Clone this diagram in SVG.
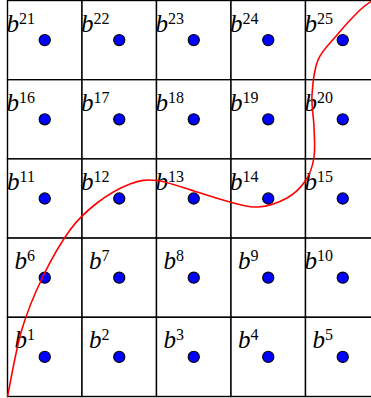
<svg xmlns="http://www.w3.org/2000/svg" width="371" height="398" viewBox="0 0 371 398">
<style>
.cell{fill:#fff;stroke:#000;stroke-width:1.4}
.dot{fill:#0000ff;stroke:#000;stroke-width:1.1}
.lb{font-family:"Liberation Serif","DejaVu Serif",serif;fill:#000;text-anchor:end}
.b{font-style:italic;font-size:25px}
.s{font-size:16px}
.curve{fill:none;stroke:#ff0000;stroke-width:1.6}
</style>
<rect width="371" height="398" fill="#fff"/>
<g id="b21"><rect class="cell" x="7.5" y="0.5" width="74.5" height="79.2"/><circle class="dot" cx="44.75" cy="40.1" r="5.6"/><text class="lb" x="35" y="31.5"><tspan class="b">b</tspan><tspan class="s" dy="-8">21</tspan></text></g>
<g id="b22"><rect class="cell" x="82" y="0.5" width="74.5" height="79.2"/><circle class="dot" cx="119.25" cy="40.1" r="5.6"/><text class="lb" x="109.5" y="31.5"><tspan class="b">b</tspan><tspan class="s" dy="-8">22</tspan></text></g>
<g id="b23"><rect class="cell" x="156.5" y="0.5" width="74.5" height="79.2"/><circle class="dot" cx="193.75" cy="40.1" r="5.6"/><text class="lb" x="184" y="31.5"><tspan class="b">b</tspan><tspan class="s" dy="-8">23</tspan></text></g>
<g id="b24"><rect class="cell" x="231" y="0.5" width="74.5" height="79.2"/><circle class="dot" cx="268.25" cy="40.1" r="5.6"/><text class="lb" x="258.5" y="31.5"><tspan class="b">b</tspan><tspan class="s" dy="-8">24</tspan></text></g>
<g id="b25"><rect class="cell" x="305.5" y="0.5" width="74.5" height="79.2"/><circle class="dot" cx="342.75" cy="40.1" r="5.6"/><text class="lb" x="333" y="31.5"><tspan class="b">b</tspan><tspan class="s" dy="-8">25</tspan></text></g>
<g id="b16"><rect class="cell" x="7.5" y="79.7" width="74.5" height="79.2"/><circle class="dot" cx="44.75" cy="119.3" r="5.6"/><text class="lb" x="35" y="110.7"><tspan class="b">b</tspan><tspan class="s" dy="-8">16</tspan></text></g>
<g id="b17"><rect class="cell" x="82" y="79.7" width="74.5" height="79.2"/><circle class="dot" cx="119.25" cy="119.3" r="5.6"/><text class="lb" x="109.5" y="110.7"><tspan class="b">b</tspan><tspan class="s" dy="-8">17</tspan></text></g>
<g id="b18"><rect class="cell" x="156.5" y="79.7" width="74.5" height="79.2"/><circle class="dot" cx="193.75" cy="119.3" r="5.6"/><text class="lb" x="184" y="110.7"><tspan class="b">b</tspan><tspan class="s" dy="-8">18</tspan></text></g>
<g id="b19"><rect class="cell" x="231" y="79.7" width="74.5" height="79.2"/><circle class="dot" cx="268.25" cy="119.3" r="5.6"/><text class="lb" x="258.5" y="110.7"><tspan class="b">b</tspan><tspan class="s" dy="-8">19</tspan></text></g>
<g id="b20"><rect class="cell" x="305.5" y="79.7" width="74.5" height="79.2"/><circle class="dot" cx="342.75" cy="119.3" r="5.6"/><text class="lb" x="333" y="110.7"><tspan class="b">b</tspan><tspan class="s" dy="-8">20</tspan></text></g>
<g id="b11"><rect class="cell" x="7.5" y="158.9" width="74.5" height="79.2"/><circle class="dot" cx="44.75" cy="198.5" r="5.6"/><text class="lb" x="35" y="189.9"><tspan class="b">b</tspan><tspan class="s" dy="-8">11</tspan></text></g>
<g id="b12"><rect class="cell" x="82" y="158.9" width="74.5" height="79.2"/><circle class="dot" cx="119.25" cy="198.5" r="5.6"/><text class="lb" x="109.5" y="189.9"><tspan class="b">b</tspan><tspan class="s" dy="-8">12</tspan></text></g>
<g id="b13"><rect class="cell" x="156.5" y="158.9" width="74.5" height="79.2"/><circle class="dot" cx="193.75" cy="198.5" r="5.6"/><text class="lb" x="184" y="189.9"><tspan class="b">b</tspan><tspan class="s" dy="-8">13</tspan></text></g>
<g id="b14"><rect class="cell" x="231" y="158.9" width="74.5" height="79.2"/><circle class="dot" cx="268.25" cy="198.5" r="5.6"/><text class="lb" x="258.5" y="189.9"><tspan class="b">b</tspan><tspan class="s" dy="-8">14</tspan></text></g>
<g id="b15"><rect class="cell" x="305.5" y="158.9" width="74.5" height="79.2"/><circle class="dot" cx="342.75" cy="198.5" r="5.6"/><text class="lb" x="333" y="189.9"><tspan class="b">b</tspan><tspan class="s" dy="-8">15</tspan></text></g>
<g id="b6"><rect class="cell" x="7.5" y="238.1" width="74.5" height="79.2"/><circle class="dot" cx="44.75" cy="277.7" r="5.6"/><text class="lb" x="35" y="269.1"><tspan class="b">b</tspan><tspan class="s" dy="-8">6</tspan></text></g>
<g id="b7"><rect class="cell" x="82" y="238.1" width="74.5" height="79.2"/><circle class="dot" cx="119.25" cy="277.7" r="5.6"/><text class="lb" x="109.5" y="269.1"><tspan class="b">b</tspan><tspan class="s" dy="-8">7</tspan></text></g>
<g id="b8"><rect class="cell" x="156.5" y="238.1" width="74.5" height="79.2"/><circle class="dot" cx="193.75" cy="277.7" r="5.6"/><text class="lb" x="184" y="269.1"><tspan class="b">b</tspan><tspan class="s" dy="-8">8</tspan></text></g>
<g id="b9"><rect class="cell" x="231" y="238.1" width="74.5" height="79.2"/><circle class="dot" cx="268.25" cy="277.7" r="5.6"/><text class="lb" x="258.5" y="269.1"><tspan class="b">b</tspan><tspan class="s" dy="-8">9</tspan></text></g>
<g id="b10"><rect class="cell" x="305.5" y="238.1" width="74.5" height="79.2"/><circle class="dot" cx="342.75" cy="277.7" r="5.6"/><text class="lb" x="333" y="269.1"><tspan class="b">b</tspan><tspan class="s" dy="-8">10</tspan></text></g>
<g id="b1"><rect class="cell" x="7.5" y="317.3" width="74.5" height="79.2"/><circle class="dot" cx="44.75" cy="356.9" r="5.6"/><text class="lb" x="35" y="348.3"><tspan class="b">b</tspan><tspan class="s" dy="-8">1</tspan></text></g>
<g id="b2"><rect class="cell" x="82" y="317.3" width="74.5" height="79.2"/><circle class="dot" cx="119.25" cy="356.9" r="5.6"/><text class="lb" x="109.5" y="348.3"><tspan class="b">b</tspan><tspan class="s" dy="-8">2</tspan></text></g>
<g id="b3"><rect class="cell" x="156.5" y="317.3" width="74.5" height="79.2"/><circle class="dot" cx="193.75" cy="356.9" r="5.6"/><text class="lb" x="184" y="348.3"><tspan class="b">b</tspan><tspan class="s" dy="-8">3</tspan></text></g>
<g id="b4"><rect class="cell" x="231" y="317.3" width="74.5" height="79.2"/><circle class="dot" cx="268.25" cy="356.9" r="5.6"/><text class="lb" x="258.5" y="348.3"><tspan class="b">b</tspan><tspan class="s" dy="-8">4</tspan></text></g>
<g id="b5"><rect class="cell" x="305.5" y="317.3" width="74.5" height="79.2"/><circle class="dot" cx="342.75" cy="356.9" r="5.6"/><text class="lb" x="333" y="348.3"><tspan class="b">b</tspan><tspan class="s" dy="-8">5</tspan></text></g>
<g id="connectors">
<path class="curve" d="M7.5,396.5 C9.87,385.42 15.83,349.92 21.7,330 C27.57,310.08 34.65,293.67 42.7,277 C50.75,260.33 60.95,242.33 70,230 C79.05,217.67 87,210.67 97,203 C107,195.33 120,187.75 130,184 C140,180.25 145.83,179.17 157,180.5 C168.17,181.83 184.83,188.42 197,192 C209.17,195.58 219.83,199.5 230,202 C240.17,204.5 248.5,207.67 258,207 C267.5,206.33 279,202.5 287,198 C295,193.5 301.5,186.83 306,180 C310.5,173.17 312.67,165.83 314,157 C315.33,148.17 314.33,137.33 314,127 C313.67,116.67 311.33,106.17 312,95 C312.67,83.83 313.83,70 318,60 C322.17,50 330,43.33 337,35 C344,26.67 354,15.83 360,10 C366,4.17 370.83,1.67 373,0"/>
</g>
</svg>
